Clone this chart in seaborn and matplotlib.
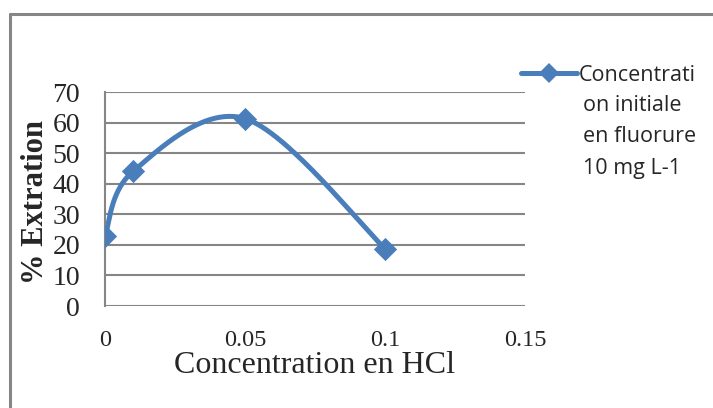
import numpy as np
import pandas as pd
import matplotlib
matplotlib.use("Agg")
import matplotlib.pyplot as plt
import seaborn as sns
from matplotlib.lines import Line2D

x_vals = [0.0, 0.01, 0.05, 0.1]
y_vals = [23.0, 44.0, 61.3, 18.8]
x_ticks = [0, 0.05, 0.1, 0.15]
x_tick_labels = ["0", "0.05", "0.1", "0.15"]
y_ticks = [0, 10, 20, 30, 40, 50, 60, 70]
series_lines = ["Concentrati", "on initiale", "en fluorure", "10 mg L-1"]

sns.set_theme(style="white")
plt.rcParams["font.family"] = ["Liberation Serif", "DejaVu Serif"]

color = "#4A7EBB"
fig = plt.figure(figsize=(7.13, 4.08), dpi=100)
ax = fig.add_axes([105/713, 1-306/408, (525-105)/713, (306-92)/408])
ax.set_xlim(0, 0.15)
ax.set_ylim(0, 70)

df = pd.DataFrame({"x": x_vals, "y": y_vals})

# Excel-like smoothing (Catmull-Rom Bezier in display space)
fig.canvas.draw()
pts = ax.transData.transform(np.column_stack([x_vals, y_vals]))
n = len(pts)
curve = []
for i in range(n - 1):
    p0 = pts[i - 1] if i > 0 else pts[i]
    p1 = pts[i]
    p2 = pts[i + 1]
    p3 = pts[i + 2] if i + 2 < n else pts[i + 1]
    c1 = p1 + (p2 - p0) / 6
    c2 = p2 - (p3 - p1) / 6
    t = np.linspace(0, 1, 60)[:, None]
    seg = (1-t)**3*p1 + 3*(1-t)**2*t*c1 + 3*(1-t)*t**2*c2 + t**3*p2
    curve.append(seg)
curve = np.vstack(curve)
curve_data = ax.transData.inverted().transform(curve)
smooth = pd.DataFrame({"x": curve_data[:, 0], "y": curve_data[:, 1]})

sns.lineplot(data=smooth, x="x", y="y", sort=False, ax=ax, color=color,
             linewidth=3.6, estimator=None, legend=False)
sns.scatterplot(data=df, x="x", y="y", ax=ax, color=color, marker="D",
                s=140, edgecolor=color, linewidth=0, legend=False, zorder=3)

for yv in y_ticks:
    ax.axhline(yv, color="#868686", linewidth=1.5, zorder=0)
for s in ["top", "right", "bottom"]:
    ax.spines[s].set_visible(False)
ax.spines["left"].set_color("#868686")
ax.spines["left"].set_linewidth(1.5)

ax.set_xticks(x_ticks)
ax.set_xticklabels(x_tick_labels, fontsize=17.5)
ax.set_yticks(y_ticks)
ax.set_yticklabels([str(v) for v in y_ticks], fontsize=20)
ax.tick_params(axis="x", length=0, pad=17)
ax.tick_params(axis="y", length=0, pad=18)
ax.set_xlabel("Concentration en HCl", fontsize=23, labelpad=0)
ax.set_ylabel("% Extration", fontsize=22, fontweight="bold")
ax.yaxis.set_label_coords((36 - 105) / 420, 0.486)
ax.yaxis.label.set_va("center")

handle = Line2D([0], [0], color=color, linewidth=3.6, marker="D",
                markersize=10, markeredgewidth=0)
leg = fig.legend([handle], [series_lines[0]], loc="upper left",
                 bbox_to_anchor=(521/713, 1-65/408), frameon=False,
                 handlelength=2.6, handletextpad=0.08, borderaxespad=0,
                 borderpad=0,
                 prop={"family": "Open Sans", "size": 15.5})
for i, line in enumerate(series_lines[1:], start=1):
    fig.text(583/713, 1-(74 + 31.5*i)/408, line, family="Open Sans",
             fontsize=15.5, va="center", ha="left")

fig.add_artist(Line2D([10/713, 10/713], [0, 1-14/408], color="#868686",
                      linewidth=2.2, transform=fig.transFigure))
fig.add_artist(Line2D([10/713, 1], [1-14/408, 1-14/408], color="#868686",
                      linewidth=2.2, transform=fig.transFigure))

fig.savefig("out.png", dpi=100)
